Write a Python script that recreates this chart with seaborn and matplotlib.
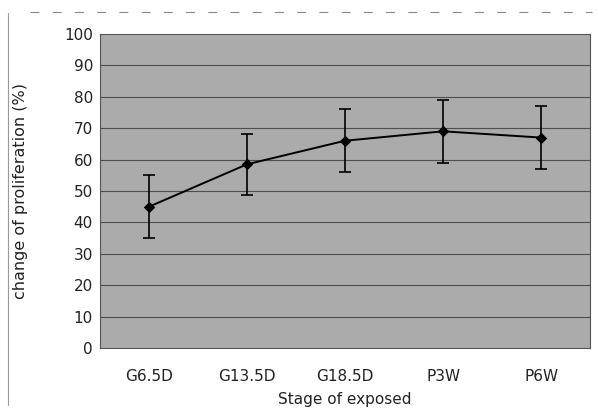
import matplotlib
matplotlib.use("Agg")
import matplotlib.pyplot as plt
import seaborn as sns
import pandas as pd
from matplotlib.lines import Line2D

# values
stages = ["G6.5D", "G13.5D", "G18.5D", "P3W", "P6W"]
means = [45.0, 58.5, 66.0, 69.0, 67.0]
errors = [10.0, 9.8, 10.0, 10.0, 10.0]
yticks = [0, 10, 20, 30, 40, 50, 60, 70, 80, 90, 100]

df = pd.DataFrame({"stage": stages, "mean": means})

sns.set_theme(style="white")
plt.rcParams["font.family"] = ["DejaVu Sans"]

fig = plt.figure(figsize=(5.98, 4.18), dpi=100)
ax = fig.add_axes([0.167, 0.167, 0.82, 0.752])
ax.set_facecolor("#ababab")

# horizontal grid lines
for t in yticks[1:-1]:
    ax.axhline(t, color="#4f4f4f", lw=0.8, zorder=1)

ax.errorbar(df["stage"], df["mean"], yerr=errors, fmt="none",
            ecolor="black", elinewidth=1.2, capsize=4, capthick=1.2, zorder=3)
sns.lineplot(data=df, x="stage", y="mean", ax=ax, color="black",
             marker="D", markersize=5, markeredgecolor="black", lw=1.4,
             sort=False, zorder=4)

ax.set_xlim(-0.5, 4.5)
ax.set_ylim(0, 100)
ax.set_yticks(yticks)
ax.tick_params(axis="both", labelsize=11, length=0, colors="#222222")
ax.tick_params(axis="y", pad=5)
ax.tick_params(axis="x", pad=15)
ax.set_xlabel("Stage of exposed", fontsize=11, labelpad=6, color="#222222")
ax.set_ylabel("change of proliferation (%)", fontsize=11.5, labelpad=26,
              color="#222222")
for s in ax.spines.values():
    s.set_color("#555555")
    s.set_linewidth(0.8)

# faint outer frame of the scanned figure
fig.add_artist(Line2D([0.014, 0.014], [0.03, 0.97], transform=fig.transFigure,
                      color="#999999", lw=0.8))
fig.add_artist(Line2D([0.05, 0.99], [0.972, 0.972], transform=fig.transFigure,
                      color="#888888", lw=0.8, ls=(0, (8, 12))))

fig.savefig("out.png", dpi=100)
